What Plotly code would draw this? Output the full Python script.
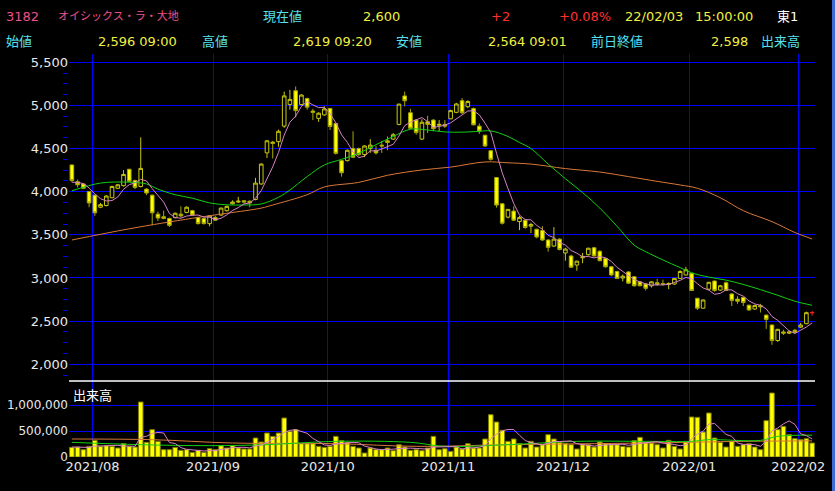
import plotly.graph_objects as go
import pandas as pd

# trading days shown (TSE calendar)
holidays = ["2021-08-09", "2021-09-20", "2021-09-23", "2021-11-03",
            "2021-11-23", "2021-12-31", "2022-01-03", "2022-01-10"]
dates = [d for d in pd.bdate_range("2021-07-27", "2022-02-03")
         if d.strftime("%Y-%m-%d") not in holidays]

opens = [4310, 4115, 4090, 4000, 3960, 3820, 3840, 3930, 4040, 4070,
         4260, 4130, 4060, 4030, 3960, 3740, 3710, 3690, 3700, 3740,
         3760, 3780, 3700, 3690, 3630, 3700, 3730, 3780, 3860, 3880,
         3895, 3890, 3910, 4090, 4450, 4575, 4580, 4760, 5010, 5170,
         5010, 5080, 4935, 4850, 4890, 4965, 4790, 4360, 4360, 4500,
         4500, 4430, 4500, 4480, 4540, 4590, 4610, 4780, 5110, 4915,
         4830, 4610, 4810, 4830, 4770, 4780, 4845, 4920, 5055, 4985,
         4965, 4760, 4655, 4475, 4165, 3860, 3705, 3775, 3655, 3670,
         3600, 3565, 3550, 3440, 3370, 3450, 3290, 3255, 3150, 3235,
         3270, 3350, 3310, 3225, 3130, 3075, 3000, 3070, 3015, 2955,
         2930, 2910, 2945, 2935, 2925, 2930, 2995, 3035, 3055, 2765,
         2650, 2870, 2965, 2860, 2945, 2815, 2755, 2775, 2685, 2640,
         2680, 2570, 2455, 2275, 2375, 2360, 2395, 2430, 2470, 2596]
highs = [4315, 4140, 4095, 4005, 3965, 3870, 3960, 4070, 4090, 4250,
         4265, 4140, 4630, 4040, 3965, 3770, 3780, 3700, 3760, 3830,
         3830, 3790, 3710, 3700, 3725, 3720, 3815, 3840, 3900, 3940,
         3900, 3900, 4160, 4330, 4600, 4590, 4720, 5160, 5180, 5220,
         5130, 5090, 4960, 4920, 4990, 4970, 4800, 4370, 4490, 4700,
         4510, 4540, 4610, 4530, 4590, 4640, 4680, 5020, 5160, 4960,
         4840, 4840, 4880, 4840, 4830, 4830, 4950, 5030, 5085, 5060,
         4975, 4790, 4660, 4480, 4170, 3870, 3800, 3830, 3720, 3680,
         3640, 3570, 3600, 3450, 3590, 3460, 3350, 3270, 3200, 3290,
         3350, 3360, 3320, 3230, 3140, 3085, 3040, 3080, 3020, 2965,
         2940, 2965, 2990, 2980, 2950, 3000, 3090, 3130, 3060, 2770,
         2750, 2955, 2970, 2920, 2960, 2820, 2790, 2780, 2690, 2690,
         2700, 2575, 2460, 2410, 2400, 2390, 2410, 2480, 2610, 2619]
lows = [4110, 4050, 4030, 3820, 3720, 3810, 3830, 3925, 4030, 4060,
        4110, 4030, 4050, 3960, 3610, 3660, 3680, 3590, 3690, 3700,
        3750, 3720, 3620, 3620, 3600, 3660, 3720, 3770, 3850, 3870,
        3860, 3820, 3900, 4080, 4390, 4385, 4520, 4740, 4950, 4860,
        5000, 4950, 4830, 4810, 4880, 4715, 4430, 4175, 4350, 4390,
        4410, 4400, 4450, 4430, 4450, 4480, 4600, 4770, 4990, 4730,
        4660, 4600, 4680, 4700, 4700, 4740, 4840, 4910, 4900, 4970,
        4770, 4670, 4520, 4360, 3815, 3620, 3690, 3660, 3555, 3570,
        3520, 3460, 3430, 3305, 3360, 3320, 3200, 3120, 3085, 3170,
        3260, 3250, 3195, 3120, 3020, 2990, 2960, 2930, 2900, 2905,
        2855, 2890, 2910, 2910, 2870, 2920, 2990, 3030, 2850, 2630,
        2645, 2860, 2840, 2850, 2850, 2675, 2700, 2675, 2620, 2630,
        2600, 2410, 2225, 2260, 2340, 2350, 2355, 2420, 2465, 2564]
closes = [4130, 4080, 4040, 3870, 3755, 3850, 3950, 4060, 4080, 4200,
          4120, 4050, 4270, 3985, 3755, 3695, 3690, 3610, 3750, 3720,
          3820, 3730, 3630, 3630, 3720, 3670, 3810, 3830, 3880, 3890,
          3880, 3870, 4100, 4320, 4590, 4560, 4700, 5110, 5070, 4940,
          5120, 4980, 4920, 4910, 4960, 4755, 4445, 4220, 4480, 4400,
          4430, 4530, 4540, 4450, 4530, 4570, 4660, 5015, 5055, 4735,
          4685, 4805, 4780, 4730, 4780, 4760, 4940, 5017, 4915, 5045,
          4775, 4705, 4530, 4375, 3845, 3635, 3795, 3670, 3700, 3585,
          3620, 3475, 3440, 3355, 3450, 3330, 3335, 3125, 3195, 3245,
          3345, 3255, 3200, 3130, 3035, 2995, 3020, 2940, 2910, 2910,
          2880, 2955, 2925, 2930, 2935, 2995, 3075, 3095, 2855, 2650,
          2745, 2950, 2855, 2910, 2855, 2740, 2730, 2715, 2630, 2680,
          2665, 2520, 2275, 2405, 2360, 2375, 2370, 2455, 2598, 2600]
volumes = [186, 192, 141, 205, 320, 205, 218, 205, 173, 256,
           205, 192, 1058, 282, 526, 301, 141, 141, 186, 128,
           141, 90, 128, 90, 160, 141, 218, 173, 218, 173,
           154, 154, 365, 288, 461, 397, 461, 750, 494, 526,
           256, 256, 256, 205, 186, 205, 397, 314, 282, 205,
           173, 77, 173, 141, 141, 173, 122, 237, 192, 128,
           141, 122, 173, 397, 141, 160, 109, 192, 154, 256,
           173, 173, 346, 814, 673, 513, 301, 346, 256, 173,
           301, 192, 237, 429, 346, 282, 256, 237, 154, 237,
           237, 192, 288, 256, 237, 237, 205, 192, 314, 378,
           282, 269, 237, 173, 320, 205, 154, 301, 769, 763,
           481, 846, 365, 282, 192, 301, 205, 237, 256, 192,
           141, 699, 1231, 526, 590, 429, 353, 333, 353, 269]
volumes = [v * 1000 for v in volumes]

# closes / volumes of the 4 sessions before the window (for the 5-day lines)
prev_closes = [4090, 4110, 4120, 4100]
prev_volumes = [180000, 200000, 190000, 200000]

# 25-day and 75-day averages at a few sessions
ma25_idx = [0, 5, 10, 13, 15, 18, 21, 24, 27, 30, 33, 36, 38, 41, 44, 47, 50,
            53, 56, 59, 62, 65, 68, 71, 73, 76, 78, 80, 83, 86, 89, 92, 95,
            98, 100, 103, 106, 108, 111, 114, 117, 120, 123, 126, 129]
ma25_val = [4010, 4100, 4110, 4090, 4030, 3965, 3925, 3870, 3848, 3846, 3858,
            3935, 4020, 4175, 4310, 4375, 4445, 4545, 4640, 4724, 4715, 4693,
            4690, 4700, 4705, 4640, 4570, 4500, 4320, 4150, 3990, 3810, 3600,
            3380, 3305, 3209, 3120, 3060, 3010, 2975, 2925, 2865, 2800, 2730,
            2684]
ma75_idx = [0, 10, 21, 27, 33, 35, 41, 44, 50, 55, 61, 66, 72, 76, 80, 86,
            92, 97, 102, 106, 109, 113, 117, 122, 126, 129]
ma75_val = [3440, 3570, 3692, 3750, 3810, 3846, 3965, 4055, 4108, 4190, 4252,
            4285, 4345, 4335, 4320, 4268, 4228, 4175, 4120, 4078, 4040, 3930,
            3780, 3653, 3527, 3452]
vma25_idx = [0, 12, 24, 34, 46, 59, 65, 76, 88, 100, 108, 111, 120, 123, 129]
vma25_val = [282, 237, 218, 237, 301, 282, 205, 237, 301, 301, 301, 333, 320,
             397, 420]
vma75_idx = [0, 14, 28, 46, 60, 76, 100, 117, 129]
vma75_val = [346, 333, 269, 256, 205, 237, 269, 301, 310]

BLUE = "#0000ff"
n = len(dates)
x = list(range(n))

ma5 = pd.Series(prev_closes + closes).rolling(5).mean().tolist()[4:]
vma5 = pd.Series(prev_volumes + volumes).rolling(5).mean().tolist()[4:]

# month start positions for the vertical grid
tickvals, ticktext = [], []
for i, d in enumerate(dates):
    if i > 0 and d.month != dates[i - 1].month:
        tickvals.append(i - 0.4)
        ticktext.append(d.strftime("%Y/%m"))

fig = go.Figure()

# -------------------------
# Candles
# -------------------------
fig.add_trace(go.Candlestick(
    x=x[:-1], open=opens[:-1], high=highs[:-1], low=lows[:-1], close=closes[:-1],
    increasing=dict(line=dict(color="#c8c810", width=1), fillcolor="#000000"),
    decreasing=dict(line=dict(color="#a8a800", width=1), fillcolor="#ffff00"),
    hoverinfo="skip", showlegend=False,
))
# today's session (drawn red)
fig.add_trace(go.Candlestick(
    x=x[-1:], open=opens[-1:], high=highs[-1:], low=lows[-1:], close=closes[-1:],
    increasing=dict(line=dict(color="#ff2020", width=1), fillcolor="#ff2020"),
    decreasing=dict(line=dict(color="#ff2020", width=1), fillcolor="#ff2020"),
    hoverinfo="skip", showlegend=False,
))

# moving averages
fig.add_trace(go.Scatter(x=ma75_idx, y=ma75_val, mode="lines",
                         line=dict(color="#d8783a", width=1, shape="spline"),
                         hoverinfo="skip", showlegend=False))
fig.add_trace(go.Scatter(x=ma25_idx, y=ma25_val, mode="lines",
                         line=dict(color="#10d010", width=1, shape="spline"),
                         hoverinfo="skip", showlegend=False))
fig.add_trace(go.Scatter(x=x, y=ma5, mode="lines",
                         line=dict(color="#d880c8", width=1),
                         hoverinfo="skip", showlegend=False))

# -------------------------
# Volume
# -------------------------
fig.add_trace(go.Bar(x=x, y=volumes, yaxis="y2",
                     marker=dict(color="#ffff00", line=dict(color="#7a7a00", width=1)),
                     hoverinfo="skip", showlegend=False))
fig.add_trace(go.Scatter(x=vma75_idx, y=[v * 1000 for v in vma75_val],
                         yaxis="y2", mode="lines",
                         line=dict(color="#d8783a", width=1, shape="spline"),
                         hoverinfo="skip", showlegend=False))
fig.add_trace(go.Scatter(x=vma25_idx, y=[v * 1000 for v in vma25_val],
                         yaxis="y2", mode="lines",
                         line=dict(color="#10d010", width=1, shape="spline"),
                         hoverinfo="skip", showlegend=False))
fig.add_trace(go.Scatter(x=x, y=vma5, yaxis="y2", mode="lines",
                         line=dict(color="#d880c8", width=1),
                         hoverinfo="skip", showlegend=False))

# -------------------------
# Axes
# -------------------------
split = 76 / 403
TICKFONT = dict(family="DejaVu Sans", size=13, color="#e8e8e8")
fig.update_layout(
    xaxis=dict(range=[-0.5, n - 0.5], tickmode="array", tickvals=tickvals,
               ticktext=ticktext, showgrid=True, gridcolor=BLUE, gridwidth=1,
               zeroline=False, showline=False, ticks="", anchor="y2",
               automargin=False, rangeslider=dict(visible=False),
               fixedrange=True, tickfont=TICKFONT),
    yaxis=dict(domain=[split, 1], range=[1806, 5596], dtick=500, tick0=0,
               tickformat=",", showgrid=True, gridcolor=BLUE, gridwidth=1,
               zeroline=False, ticks="", fixedrange=True, automargin=False,
               minor=dict(dtick=125, tick0=0, ticks="outside", ticklen=5,
                          tickcolor=BLUE, showgrid=False),
               tickfont=TICKFONT),
    yaxis2=dict(domain=[0, split], range=[0, 1461538], dtick=500000, tick0=0,
                tickformat=",", showgrid=True, gridcolor=BLUE, gridwidth=1,
                zeroline=False, ticks="", fixedrange=True, automargin=False,
                tickfont=dict(family="DejaVu Sans", size=12, color="#e8e8e8")),
)

# divider between price and volume
fig.add_shape(type="line", xref="paper", yref="paper", x0=0, x1=1,
              y0=split, y1=split, line=dict(color="white", width=1.5))
# scrollbar strip at the right edge
fig.add_shape(type="rect", xref="paper", yref="paper",
              x0=(832 - 69) / 746, x1=(836 - 69) / 746,
              y0=-34 / 403, y1=457 / 403, fillcolor="#3c6cd4", line_width=0)

fig.add_annotation(xref="paper", yref="paper", x=(71 - 69) / 746,
                   y=(457 - 394) / 403, text="出来高", showarrow=False,
                   xanchor="left", yanchor="middle",
                   font=dict(size=13, color="white", family="Noto Sans CJK JP"))

# -------------------------
# Header
# -------------------------
PINK, CYAN, YEL, RED, WHITE = "#f0508c", "#55e0ee", "#f0f040", "#ff3030", "#ffffff"
header = [
    (4, 16, "3182", PINK, 13), (56, 16, "オイシックス・ラ・大地", PINK, 11),
    (261, 16, "現在値", CYAN, 13), (361, 16, "2,600", YEL, 13),
    (489, 16, "+2", RED, 13), (557, 16, "+0.08%", RED, 13),
    (623, 16, "22/02/03", YEL, 13), (693, 16, "15:00:00", YEL, 13),
    (775, 16, "東1", WHITE, 13),
    (4, 41, "始値", CYAN, 13), (96, 41, "2,596 09:00", YEL, 13),
    (200, 41, "高値", CYAN, 13), (291, 41, "2,619 09:20", YEL, 13),
    (394, 41, "安値", CYAN, 13), (486, 41, "2,564 09:01", YEL, 13),
    (589, 41, "前日終値", CYAN, 13), (709, 41, "2,598", YEL, 13),
    (759, 41, "出来高", CYAN, 13),
]
for px, py, txt, col, sz in header:
    fig.add_annotation(xref="paper", yref="paper", x=(px - 69) / 746,
                       y=(457 - py) / 403, text=txt, showarrow=False,
                       xanchor="left", yanchor="middle",
                       font=dict(size=sz, color=col,
                                 family="DejaVu Sans, Noto Sans CJK JP"))

fig.update_layout(
    template="none",
    width=835, height=491,
    margin=dict(l=69, r=20, t=54, b=34),
    paper_bgcolor="black", plot_bgcolor="black",
    showlegend=False, boxgap=0.1, bargap=0.2,
    font=dict(family="DejaVu Sans", color="#e8e8e8", size=13),
)

fig.write_html(
    "out.html",
    config={"displayModeBar": False},
    post_script="document.body.style.margin='0';document.body.style.overflow='hidden';",
)
